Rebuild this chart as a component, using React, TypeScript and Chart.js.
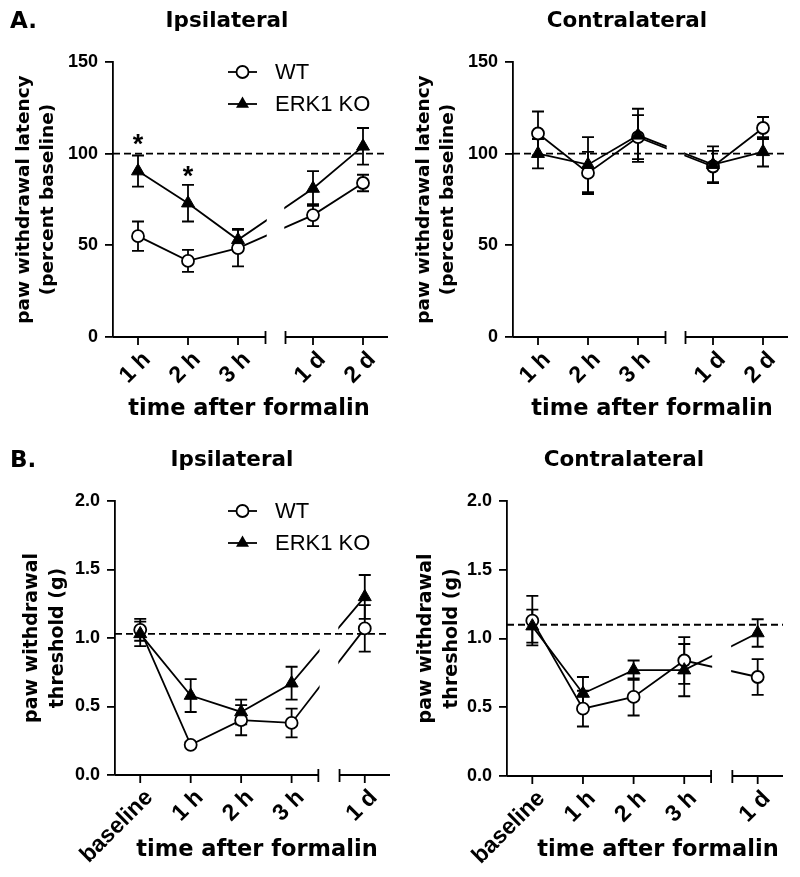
import React, { useEffect, useRef } from 'react';
import { Chart, registerables } from 'chart.js';

Chart.register(...registerables);

// ---------- data ----------
const groupNames = ['WT', 'ERK1 KO'];
const xTitle = 'time after formalin';

const labelsA = ['1 h', '2 h', '3 h', '1 d', '2 d'];
const labelsB = ['baseline', '1 h', '2 h', '3 h', '1 d'];
// positions of the categories on the broken time axis
const slotsA = [1, 2, 3, 4.5, 5.5];
const slotsB = [1, 2, 3, 4, 5.45];

// A. thermal latency (% baseline)
const latIpsiWT = [55, 41.5, 48.5, 66.5, 84];
const latIpsiWTsem = [8, 6, 10, 6, 4.5];
const latIpsiKO = [90.5, 73, 53, 81, 104];
const latIpsiKOsem = [8.5, 10, 6, 9.5, 10];
const latIpsiStarIdx = [0, 1];
const latIpsiStarY = [108.5, 91];

const latContraWT = [111, 89.5, 109, 93, 114];
const latContraWTsem = [12, 11.5, 12, 8.5, 6];
const latContraKO = [100, 94, 110, 94, 101];
const latContraKOsem = [8, 15, 14.5, 10, 8];

// B. mechanical threshold (g)
const thrIpsiWT = [1.06, 0.22, 0.4, 0.38, 1.07];
const thrIpsiWTsem = [0.08, 0.02, 0.11, 0.105, 0.17];
const thrIpsiKO = [1.03, 0.58, 0.46, 0.67, 1.3];
const thrIpsiKOsem = [0.09, 0.12, 0.09, 0.12, 0.16];

const thrContraWT = [1.13, 0.49, 0.575, 0.84, 0.72];
const thrContraWTsem = [0.18, 0.13, 0.135, 0.17, 0.13];
const thrContraKO = [1.09, 0.6, 0.77, 0.77, 1.04];
const thrContraKOsem = [0.12, 0.12, 0.07, 0.19, 0.1];

const refLines = [100, 100, 1.03, 1.1];

// ---------- styling ----------
const FONT_WIDE = '"DejaVu Sans", sans-serif';
const FONT_ARIAL = '"Liberation Sans", Arial, sans-serif';
const W = 400;
const H = 438;
const LW = 1.8;

interface Panel {
  left: number;
  top: number;
  letter: string;
  title: string;
  titleX: number;
  labels: string[];
  slots: number[];
  xMin: number;
  xMax: number;
  gap: [number, number];
  yMin: number;
  yMax: number;
  yStep: number;
  decimals: number;
  yTitle: string[];
  yTitleSize: number;
  yTitleLH: number;
  yTitlePad: number;
  wt: number[];
  wtSem: number[];
  ko: number[];
  koSem: number[];
  ref: number;
  legend: boolean;
  starIdx: number[];
  starY: number[];
  area: { left: number; right: number; top: number; bottom: number };
  xTitleX: number;
  xTitleBase: number;
}

const panels: Panel[] = [
  {
    left: 0, top: 0, letter: 'A.', title: 'Ipsilateral', titleX: 227,
    labels: labelsA, slots: slotsA, xMin: 0.5, xMax: 6.0, gap: [3.55, 3.95],
    yMin: 0, yMax: 150, yStep: 50, decimals: 0,
    yTitle: ['paw withdrawal latency', '(percent baseline)'], yTitleSize: 18.5, yTitleLH: 1.27, yTitlePad: 12.5,
    wt: latIpsiWT, wtSem: latIpsiWTsem, ko: latIpsiKO, koSem: latIpsiKOsem, ref: refLines[0],
    legend: true, starIdx: latIpsiStarIdx, starY: latIpsiStarY,
    area: { left: 113, right: 388, top: 62, bottom: 337 }, xTitleX: 249, xTitleBase: 415,
  },
  {
    left: 400, top: 0, letter: '', title: 'Contralateral', titleX: 227,
    labels: labelsA, slots: slotsA, xMin: 0.5, xMax: 6.0, gap: [3.55, 3.95],
    yMin: 0, yMax: 150, yStep: 50, decimals: 0,
    yTitle: ['paw withdrawal latency', '(percent baseline)'], yTitleSize: 18.5, yTitleLH: 1.27, yTitlePad: 12.5,
    wt: latContraWT, wtSem: latContraWTsem, ko: latContraKO, koSem: latContraKOsem, ref: refLines[1],
    legend: false, starIdx: [], starY: [],
    area: { left: 113, right: 388, top: 62, bottom: 337 }, xTitleX: 252, xTitleBase: 415,
  },
  {
    left: 0, top: 439, letter: 'B.', title: 'Ipsilateral', titleX: 232,
    labels: labelsB, slots: slotsB, xMin: 0.5, xMax: 5.95, gap: [4.53, 4.95],
    yMin: 0, yMax: 2, yStep: 0.5, decimals: 1,
    yTitle: ['paw withdrawal', 'threshold (g)'], yTitleSize: 19, yTitleLH: 1.38, yTitlePad: 19,
    wt: thrIpsiWT, wtSem: thrIpsiWTsem, ko: thrIpsiKO, koSem: thrIpsiKOsem, ref: refLines[2],
    legend: true, starIdx: [], starY: [],
    area: { left: 115, right: 390, top: 62, bottom: 336 }, xTitleX: 257, xTitleBase: 417,
  },
  {
    left: 400, top: 439, letter: '', title: 'Contralateral', titleX: 224,
    labels: labelsB, slots: slotsB, xMin: 0.5, xMax: 5.95, gap: [4.53, 4.95],
    yMin: 0, yMax: 2, yStep: 0.5, decimals: 1,
    yTitle: ['paw withdrawal', 'threshold (g)'], yTitleSize: 19, yTitleLH: 1.38, yTitlePad: 13,
    wt: thrContraWT, wtSem: thrContraWTsem, ko: thrContraKO, koSem: thrContraKOsem, ref: refLines[3],
    legend: false, starIdx: [], starY: [],
    area: { left: 107, right: 383, top: 62, bottom: 337 }, xTitleX: 258, xTitleBase: 417,
  },
];

function drawErrorBars(ctx: CanvasRenderingContext2D, xs: any, ys: any, slots: number[], means: number[], sems: number[]) {
  ctx.save();
  ctx.strokeStyle = '#000';
  ctx.lineWidth = LW;
  slots.forEach((s, i) => {
    const x = xs.getPixelForValue(s);
    const yt = ys.getPixelForValue(means[i] + sems[i]);
    const yb = ys.getPixelForValue(means[i] - sems[i]);
    ctx.beginPath();
    ctx.moveTo(x, yt);
    ctx.lineTo(x, yb);
    ctx.moveTo(x - 6, yt);
    ctx.lineTo(x + 6, yt);
    ctx.moveTo(x - 6, yb);
    ctx.lineTo(x + 6, yb);
    ctx.stroke();
  });
  ctx.restore();
}

function drawRefLine(ctx: CanvasRenderingContext2D, chart: any, y: number) {
  const a = chart.chartArea;
  ctx.save();
  ctx.strokeStyle = '#000';
  ctx.lineWidth = LW;
  ctx.setLineDash([7, 4]);
  ctx.beginPath();
  ctx.moveTo(a.left, y);
  ctx.lineTo(a.right, y);
  ctx.stroke();
  ctx.restore();
}

function makeDecor(p: Panel) {
  return {
    id: 'decor',
    beforeDatasetsDraw(chart: any) {
      const ctx = chart.ctx as CanvasRenderingContext2D;
      const xs = chart.scales.x;
      const ys = chart.scales.y;
      drawRefLine(ctx, chart, ys.getPixelForValue(p.ref));
      drawErrorBars(ctx, xs, ys, p.slots, p.wt, p.wtSem);
      drawErrorBars(ctx, xs, ys, p.slots, p.ko, p.koSem);
    },
    afterDatasetsDraw(chart: any) {
      const ctx = chart.ctx as CanvasRenderingContext2D;
      const xs = chart.scales.x;
      const ys = chart.scales.y;
      const a = chart.chartArea;
      const g0 = xs.getPixelForValue(p.gap[0]);
      const g1 = xs.getPixelForValue(p.gap[1]);
      const axisY = a.bottom;
      // break in the connecting lines
      ctx.save();
      ctx.beginPath();
      ctx.rect(g0 + 1, a.top - 20, g1 - g0 - 2, a.bottom - a.top + 10);
      ctx.clip();
      ctx.fillStyle = '#fff';
      ctx.fillRect(g0 + 1, a.top - 20, g1 - g0 - 2, a.bottom - a.top + 10);
      drawRefLine(ctx, chart, ys.getPixelForValue(p.ref));
      ctx.restore();

      // broken x axis
      ctx.save();
      ctx.strokeStyle = '#000';
      ctx.lineWidth = LW;
      ctx.beginPath();
      ctx.moveTo(a.left, axisY);
      ctx.lineTo(g0, axisY);
      ctx.moveTo(g0, axisY - 6);
      ctx.lineTo(g0, axisY + 7);
      ctx.moveTo(g1, axisY - 6);
      ctx.lineTo(g1, axisY + 7);
      ctx.moveTo(g1, axisY);
      ctx.lineTo(a.right, axisY);
      p.slots.forEach((s) => {
        const x = xs.getPixelForValue(s);
        ctx.moveTo(x, axisY);
        ctx.lineTo(x, axisY + 8);
      });
      ctx.stroke();

      // rotated tick labels
      ctx.fillStyle = '#000';
      ctx.font = `bold 23px ${FONT_ARIAL}`;
      ctx.textAlign = 'right';
      ctx.textBaseline = 'middle';
      p.slots.forEach((s, i) => {
        const x = xs.getPixelForValue(s);
        ctx.save();
        ctx.translate(x + 9, axisY + 19);
        ctx.rotate(-Math.PI / 4);
        ctx.fillText(p.labels[i], 0, 0);
        ctx.restore();
      });

      // x axis title
      ctx.font = `bold 22.5px ${FONT_WIDE}`;
      ctx.textAlign = 'center';
      ctx.textBaseline = 'alphabetic';
      ctx.fillText(xTitle, p.xTitleX, p.xTitleBase);

      // panel title and letter
      ctx.font = `bold 21.5px ${FONT_WIDE}`;
      ctx.fillText(p.title, p.titleX, 27);
      if (p.letter) {
        ctx.font = `bold 23px ${FONT_WIDE}`;
        ctx.textAlign = 'left';
        ctx.fillText(p.letter, 10, 28);
      }

      // significance stars
      ctx.font = `bold 27px ${FONT_ARIAL}`;
      ctx.textAlign = 'center';
      p.starIdx.forEach((idx, k) => {
        const x = xs.getPixelForValue(p.slots[idx]);
        const y = ys.getPixelForValue(p.starY[k]);
        ctx.fillText('*', x, y + 15);
      });

      // legend
      if (p.legend) {
        const rows = [72, 104];
        rows.forEach((ry, k) => {
          ctx.beginPath();
          ctx.moveTo(228, ry);
          ctx.lineTo(257, ry);
          ctx.stroke();
          if (k === 0) {
            ctx.beginPath();
            ctx.arc(242.5, ry, 6, 0, Math.PI * 2);
            ctx.fillStyle = '#fff';
            ctx.fill();
            ctx.stroke();
          } else {
            const r = 7.5;
            ctx.beginPath();
            ctx.moveTo(242.5, ry - r);
            ctx.lineTo(242.5 + 0.866 * r, ry + 0.5 * r);
            ctx.lineTo(242.5 - 0.866 * r, ry + 0.5 * r);
            ctx.closePath();
            ctx.fillStyle = '#000';
            ctx.fill();
          }
          ctx.fillStyle = '#000';
          ctx.font = `22px ${FONT_ARIAL}`;
          ctx.textAlign = 'left';
          ctx.textBaseline = 'middle';
          ctx.fillText(groupNames[k], 275, ry + 1);
        });
      }
      ctx.restore();
    },
  };
}

function makeConfig(p: Panel): any {
  const wtData = p.slots.map((x, i) => ({ x, y: p.wt[i] }));
  const koData = p.slots.map((x, i) => ({ x, y: p.ko[i] }));
  return {
    type: 'line',
    data: {
      datasets: [
        {
          label: groupNames[1],
          data: koData,
          borderColor: '#000',
          borderWidth: LW,
          pointStyle: 'triangle',
          pointRadius: 7.5,
          pointBackgroundColor: '#000',
          pointBorderColor: '#000',
          pointBorderWidth: 1,
          tension: 0,
          fill: false,
        },
        {
          label: groupNames[0],
          data: wtData,
          borderColor: '#000',
          borderWidth: LW,
          pointStyle: 'circle',
          pointRadius: 6,
          pointBackgroundColor: '#fff',
          pointBorderColor: '#000',
          pointBorderWidth: LW,
          tension: 0,
          fill: false,
        },
      ],
    },
    options: {
      responsive: false,
      animation: false,
      events: [],
      layout: { padding: { left: 0, top: p.area.top, right: W - p.area.right, bottom: 0 } },
      plugins: {
        legend: { display: false },
        tooltip: { enabled: false },
        title: { display: false },
      },
      scales: {
        x: {
          type: 'linear',
          min: p.xMin,
          max: p.xMax,
          ticks: { display: false },
          grid: { display: false },
          border: { display: false },
          afterFit: (s: any) => {
            s.height = H - p.area.bottom;
          },
        },
        y: {
          type: 'linear',
          min: p.yMin,
          max: p.yMax,
          ticks: {
            stepSize: p.yStep,
            color: '#000',
            padding: 7,
            font: { family: FONT_ARIAL, weight: 'bold', size: 18 },
            callback: (v: any) => Number(v).toFixed(p.decimals),
          },
          grid: {
            display: true,
            drawOnChartArea: false,
            drawTicks: true,
            tickLength: 8,
            color: '#000',
            lineWidth: LW,
          },
          border: { display: true, color: '#000', width: LW },
          title: {
            display: true,
            text: p.yTitle,
            color: '#000',
            font: { family: FONT_WIDE, weight: 'bold', size: p.yTitleSize, lineHeight: p.yTitleLH },
            padding: { top: p.yTitlePad, bottom: 0 },
          },
          afterFit: (s: any) => {
            s.width = p.area.left;
          },
        },
      },
    },
    plugins: [makeDecor(p)],
  };
}

function PanelChart({ panel }: { panel: Panel }) {
  const ref = useRef<HTMLCanvasElement>(null);
  useEffect(() => {
    if (!ref.current) return;
    const chart = new Chart(ref.current, makeConfig(panel));
    return () => chart.destroy();
  }, [panel]);
  return (
    <canvas
      ref={ref}
      width={W}
      height={H}
      style={{ position: 'absolute', left: panel.left, top: panel.top, width: W, height: H }}
    />
  );
}

export default function App() {
  return (
    <div style={{ position: 'absolute', left: 0, top: 0, width: 800, height: 877, background: '#fff' }}>
      {panels.map((p, i) => (
        <PanelChart key={i} panel={p} />
      ))}
    </div>
  );
}
